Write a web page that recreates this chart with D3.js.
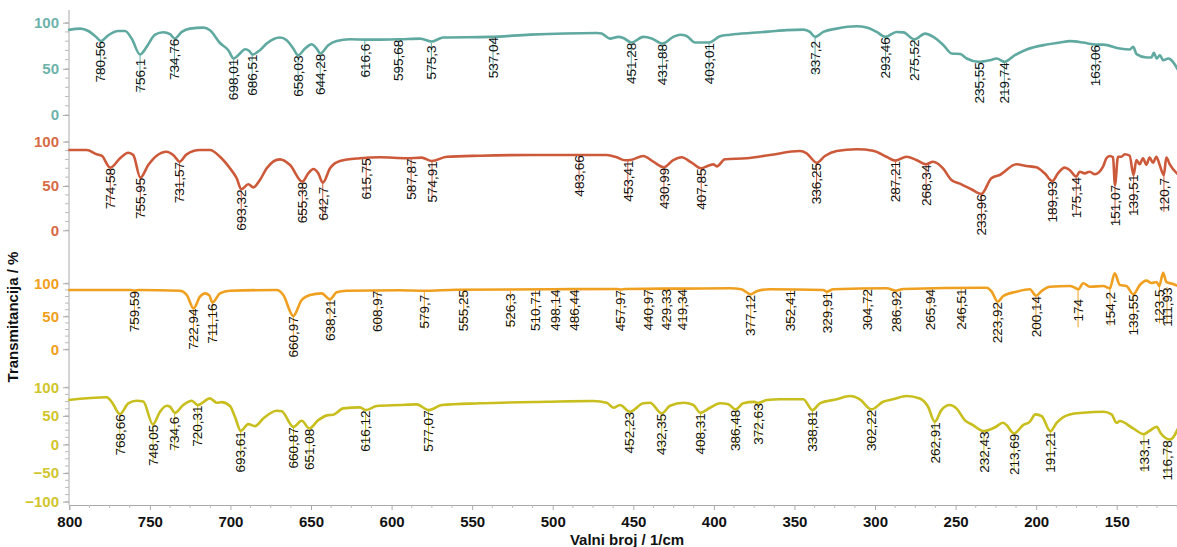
<!DOCTYPE html>
<html><head><meta charset="utf-8">
<script src="https://cdn.jsdelivr.net/npm/d3@7"></script>
<style>body{margin:0;background:#fff}svg{display:block;font-family:"Liberation Sans",Arial,sans-serif}</style>
</head><body><svg id="c" width="1177" height="547"></svg>
<script>
// ---- data ----
const xTicks = [800,750,700,650,600,550,500,450,400,350,300,250,200,150];
const yTicksA = [0,50,100];
const yTicksB = [-100,-50,0,50,100];

const s1Wn = [800.8,793.1,788.2,783,780.4,775.8,769.6,765.4,761.3,756.1,752,746.8,741.7,737.5,734.6,730.2,725.1,716.8,712.7,706.5,701.3,698,694.1,691,688.3,686.3,681.7,677.5,669.3,665.1,661,658,653.7,649.6,646.5,644.2,639.3,634.1,625.8,615.5,607,594.8,582.4,575.2,567.9,539,514.1,472.7,469.6,464.5,459.3,456.2,451.2,443.8,438.6,431.9,425.2,421,416.9,411.7,406.6,403,396.2,390,373.4,365.2,355,344.5,340.4,337.2,332.1,323.8,311.4,305.2,299,293.5,286.6,282.4,275.6,268.9,263.8,257.5,252.4,247.2,243.1,235.6,228.6,224.5,219.7,213.2,205.9,193.5,185.3,179.1,170.8,163.1,158.3,148.1,141.9,139.8,137.7,131.5,128.4,127,125.2,123.2,121.2,118,112];
const s1T = [92,93.6,91,84,80,86.4,91,91,82.8,65.5,73.8,87,89.6,87.5,82.8,90,93.6,94.7,91.8,78,70.2,61.2,66.6,71.3,69.4,65.5,70.2,77.4,84,81,72,64.8,72,76.7,72,66.6,75.6,80.2,82,81.7,81.7,82,82.8,79.6,84,84.6,87.1,88.9,88.2,82.8,84.6,83.5,78.5,84.6,83,77.4,84.6,87,85.6,78.5,78.5,78.5,85.3,87,89.3,90.5,92,92.5,90,84.6,90,93.6,96.1,94.7,90,84.6,90,89.5,82,88.2,84.6,75.6,66.6,66,61.2,57.6,59.4,61.2,57.6,64.8,71,76.3,78.5,80,78.5,76.3,76.3,72,71,73.8,66,62.3,62.3,67.3,61.2,64.8,59.4,61.2,49];
const s1Peaks = ["780,56","756,1","734,76","698,01","686,51","658,03","644,28","616,6","595,68","575,3","537,04","451,28","431,88","403,01","337,2","293,46","275,52","235,55","219,74","163,06"];

const s2Wn = [800.6,789.2,783,779.9,774.6,768.5,763.4,760.3,755.9,751,745.8,739.6,735.5,731.5,727.2,718.9,712.7,706.5,700.3,696.1,693.3,688.9,685.8,681.7,677.5,669.3,663,655.4,651.7,648.6,645.5,642.7,638.2,632,619.6,607.2,590.6,581.3,575,565.8,545.1,514.1,483.1,466.5,460.3,455.2,451,443.8,437.6,431,425.2,420,413.8,408,403.5,400.4,398.2,393.1,379.6,365.2,346.6,342.4,336.2,331.1,323.8,311.4,301.2,292.9,287.3,280.5,274.3,268.3,264,257.8,252.6,246.4,240.2,234,227.8,222.6,212.3,206.1,199.9,194.7,190,186.5,182.3,179.2,175.2,173,169.9,166.8,163.6,158.5,156.4,154.3,152.3,151.1,149.2,147.1,145.1,142,139.6,137.8,135.8,133.7,131.6,129.6,127.5,125.4,123.4,120.8,119.2,117.1,112];
const s2T = [90.6,90.6,85.8,84.2,70.7,81.3,87.6,85,59.4,73.7,84.2,88.7,85,77.4,85.8,90.6,90.6,83,70,58.7,46.3,51.9,48.5,56.8,70,80.1,73.7,54.9,64.3,69.2,64.3,53.7,70,78.2,81.3,82.4,81.3,82,78.2,83,84.2,85,85,85,82.4,79,79.7,83.9,77.4,71.1,79.3,82.4,76.3,70,72.9,74.4,72.2,80.1,81.3,85,89.5,86.9,76.3,83.9,89.5,91.4,89.8,83,78.6,83,79.3,74.5,77.4,70,56.8,51.9,46.3,41,58.7,62.4,74.5,72.6,71.1,64.3,55.6,64.3,70.7,68.1,60.5,66.1,64.3,66.1,63.2,71.8,81.3,83.9,82.4,51.1,83,83,85.8,84.2,62.4,79.3,74.5,81.3,74,82,76.3,83,74,62.4,82,74.5,63];
const s2Peaks = ["774,58","755,95","731,57","693,32","655,38","642,7","615,75","587,87","574,91","483,66","453,41","430,99","407,85","336,25","287,21","268,34","233,96","189,93","175,14","151,07","139,51","120,7"];

const s3Wn = [800.6,762,759.6,757,731.3,727.1,722.9,718.9,715.8,713.1,711.2,706.5,700.3,671.3,667.2,661,655.8,650.6,643.4,638.2,634.1,627.9,594.8,580,560,500,460,457.9,455,420,390,383,377.1,373,365.2,332.1,329.9,325.9,292.8,287,282.5,230.7,227.6,223.9,220.4,212.1,203.9,200.1,196.6,191.5,179.1,176,173.9,170.8,166.7,158.4,154.3,151.2,148.1,144,139.7,135.7,131.6,128.4,125.3,123.6,121.2,119.2,115.1,112];
const s3T = [89.8,89.8,88.8,89.8,88.8,82.3,62.1,79.7,84.8,81.7,70.6,84.8,88.8,89.8,82.3,50.5,74.7,82.3,84.8,75.8,86.4,88.8,89.5,88.8,90.3,91,91.4,90.5,91.4,92,92.4,91,83.3,88.5,90.9,89.8,87.3,90.9,92.4,88.8,91.4,93.3,87.3,72.1,80.8,87.3,90.9,81.2,88.3,94.8,95.9,93.3,90.9,100,94.8,95.9,92.4,115,97.4,95.9,83.3,97.4,104,100.5,102,95.9,116,102,98.9,95.9];
const s3Peaks = ["759,59","722,94","711,16","660,97","638,21","608,97","579,7","555,25","526,3","510,71","498,14","486,44","457,97","440,97","429,33","419,34","377,12","352,41","329,91","304,72","286,92","265,94","246,51","223,92","200,14","174","154,2","139,55","123,5","111,93"];

const s4Wn = [800.6,776.8,773.7,768.6,763.4,758.2,754.1,748.1,743.7,739.6,737.5,734.5,729.3,724,720.3,712.7,708.5,705.4,700.3,697.2,693.6,688.9,684.8,679.6,671.3,668.2,660.9,655.8,651,645.5,639.3,636.2,630,619.6,616.1,609.2,594.8,584.4,577,568.9,545.1,503.8,474.8,466.5,462.4,458.2,452.2,443.8,439.6,432.4,427.2,418.9,412.7,408.3,402.4,396.2,391,386.5,381.8,375,372.6,367.2,358.9,344.5,338.8,334.2,323.8,315.6,309.4,302.2,295,288.8,280.5,272.2,267.1,262.9,258.8,253.6,249.5,244.3,239.2,232.4,225.7,220.5,218.4,213.7,208.1,204,200.4,196.6,191.2,187.3,179.1,170.8,158.4,153.2,150.1,148.1,139.8,133.1,129.9,125.2,122.6,116.8,112];
const s4T = [77.7,82.5,74.7,53.2,71.9,76.5,75,35.1,57.2,67.7,66,55.4,69,76.5,69,80.7,73,74,67.2,48.4,23.9,35.6,32.1,45.6,59,58,30.9,41.4,28.1,42.6,51.4,52,63.2,64.9,60.2,67.2,69,70.2,60.2,69,72,74.7,76,73,64.2,69,57.2,72,73,54.4,67.7,73,69,55.4,64.2,72,70.2,61.4,72,74.5,72.5,77.7,79,79,60.2,72,79,84.7,79,61.4,74.7,79,84.7,80.4,66,39.6,60.2,69,63.2,42.6,33.9,23.3,29.8,37.9,33.9,19.3,33.9,39.6,52.6,49.6,23.3,37.9,52.6,55.4,57.2,52.6,37.9,41,28.1,18.1,23.3,30.9,19.3,8.8,28];
const s4Peaks = ["768,66","748,05","734,6","720,31","693,61","660,87","651,08","616,12","577,07","452,23","432,35","408,31","386,48","372,63","338,81","302,22","262,91","232,43","213,69","191,21","133,1","116,78"];

// ---- layout ----
const svg = d3.select("#c");
const x = d3.scaleLinear().domain([800, 112.6]).range([69.3, 1177]);
const panels = [
  {wn:s1Wn, t:s1T, peaks:s1Peaks, color:"#5fa9a1", tick:"#6db3ab", dom:[0,100], rng:[115,22.7], ticks:yTicksA, minor:10},
  {wn:s2Wn, t:s2T, peaks:s2Peaks, color:"#cc5a3a", tick:"#d86a45", dom:[0,100], rng:[230.3,141.7], ticks:yTicksA, minor:10},
  {wn:s3Wn, t:s3T, peaks:s3Peaks, color:"#f0a020", tick:"#f0a020", dom:[0,100], rng:[349.3,283.3], ticks:yTicksA, minor:10},
  {wn:s4Wn, t:s4T, peaks:s4Peaks, color:"#c8be1e", tick:"#d0c52c", dom:[-100,100], rng:[501.7,387.3], ticks:yTicksB, minor:12.5}
];

svg.append("line").attr("x1",69).attr("x2",69).attr("y1",10).attr("y2",505)
  .attr("stroke","#aaa").attr("stroke-width",1);

panels.forEach(p => {
  const y = d3.scaleLinear().domain(p.dom).range(p.rng);
  const lo = p.dom[0], hi = p.dom[1];
  const minors = d3.range(lo, hi + 0.01, p.minor);
  svg.append("g").selectAll("line").data(minors).join("line")
    .attr("x1",65).attr("x2",69).attr("y1",d=>y(d)).attr("y2",d=>y(d))
    .attr("stroke","#bbb");
  const ax = d3.axisLeft(y).tickValues(p.ticks).tickSize(6).tickPadding(4);
  const g = svg.append("g").attr("transform","translate(69,0)").call(ax);
  g.select(".domain").remove();
  g.selectAll(".tick line").attr("stroke","#aaa");
  g.selectAll(".tick text").attr("fill",p.tick).attr("font-size",15).attr("font-weight","bold")
    .attr("font-family","'Liberation Sans',Arial,sans-serif");

  const interp = d3.scaleLinear().domain(p.wn).range(p.t);
  const lab = svg.append("g");
  p.peaks.forEach(s => {
    const w = +s.replace(",", ".");
    const px = Math.min(x(w), 1167), py = y(interp(w));
    lab.append("line").attr("x1",px).attr("x2",px).attr("y1",py+1).attr("y2",py+38)
      .attr("stroke",p.color).attr("stroke-width",1);
  });
  svg.append("path").datum(d3.zip(p.wn, p.t))
    .attr("fill","none").attr("stroke",p.color).attr("stroke-width",2.6)
    .attr("stroke-linejoin","round")
    .attr("d", d3.line().x(d=>x(d[0])).y(d=>y(d[1])).curve(d3.curveMonotoneX));
  p.peaks.forEach(s => {
    const w = +s.replace(",", ".");
    const px = Math.min(x(w), 1167), py = y(interp(w));
    svg.append("text").attr("transform",`translate(${px},${py+21}) rotate(-90)`)
      .attr("text-anchor","middle").attr("dy","0.35em")
      .attr("font-size",13.5).attr("fill","#111").text(s);
  });
});

const xa = d3.axisBottom(x).tickValues(xTicks).tickSize(5).tickPadding(6).tickFormat(d3.format("d"));
const gx = svg.append("g").attr("transform","translate(0,505)").call(xa);
gx.select(".domain").attr("stroke","#aaa");
gx.selectAll(".tick line").attr("stroke","#aaa");
gx.selectAll(".tick text").attr("font-size",15).attr("font-weight","bold").attr("fill","#111")
  .attr("font-family","'Liberation Sans',Arial,sans-serif");
const xMinor = d3.range(800, 112, -12.5).filter(v => v % 50 !== 0);
gx.append("g").selectAll("line").data(xMinor).join("line")
  .attr("x1",d=>x(d)).attr("x2",d=>x(d)).attr("y1",0).attr("y2",3).attr("stroke","#bbb");

svg.append("text").attr("x",627).attr("y",545).attr("text-anchor","middle")
  .attr("font-size",15).attr("font-weight","bold").attr("fill","#111").text("Valni broj / 1/cm");
svg.append("text").attr("transform","translate(18,317) rotate(-90)").attr("text-anchor","middle")
  .attr("font-size",15).attr("font-weight","bold").attr("fill","#111").text("Transmitancija / %");
</script></body></html>
